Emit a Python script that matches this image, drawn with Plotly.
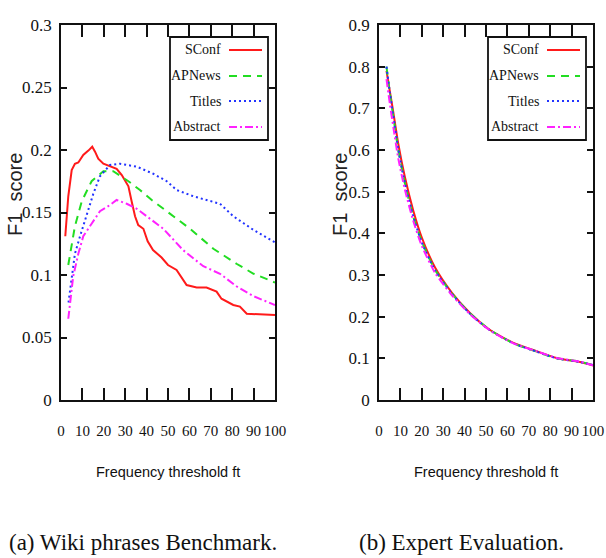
import plotly.graph_objects as go

# ---------------- data (a) Wiki phrases Benchmark ----------------
sconf_x = [2, 3.4, 5, 6.5, 8.1, 10.4, 12.8, 14.6, 15.9, 17.4, 19.8, 22.9, 26, 28.4, 31.5, 33, 34.6,
           36.1, 38.5, 40.5, 43, 47, 50, 54, 57, 58.7, 63.4, 68, 72.7, 75, 80.5, 83.6, 86.8, 93, 100]
sconf_y = [0.131, 0.163, 0.184, 0.189, 0.190, 0.196, 0.1995, 0.2026, 0.1987, 0.193, 0.189, 0.1867,
           0.185, 0.180, 0.171, 0.159, 0.147, 0.140, 0.137, 0.127, 0.120, 0.114, 0.108, 0.104, 0.096,
           0.092, 0.090, 0.090, 0.0867, 0.081, 0.076, 0.0747, 0.069, 0.0688, 0.068]

apnews_x = [3.4, 6.5, 9.7, 14.3, 19.8, 24.4, 31.5, 36.9, 42.4, 48.6, 60.3, 71.2, 82, 90, 100]
apnews_y = [0.108, 0.139, 0.159, 0.175, 0.183, 0.183, 0.175, 0.168, 0.160, 0.152, 0.137, 0.121,
            0.109, 0.101, 0.094]

titles_x = [3.5, 5, 6.5, 8.9, 12, 15.1, 18.2, 22.9, 27.6, 35.4, 43.1, 49.4, 54, 61.8, 68, 74.3,
            80.5, 90, 100]
titles_y = [0.078, 0.097, 0.117, 0.131, 0.149, 0.165, 0.179, 0.188, 0.189, 0.1867, 0.181, 0.175,
            0.168, 0.163, 0.160, 0.157, 0.147, 0.136, 0.126]

abstract_x = [3.4, 5.7, 8.1, 10.4, 14.3, 18.2, 22.9, 26, 30.7, 35.4, 41.6, 47.8, 57, 66.5, 74.3,
              82, 90, 100]
abstract_y = [0.065, 0.099, 0.117, 0.131, 0.141, 0.151, 0.156, 0.160, 0.157, 0.153, 0.145, 0.137,
              0.120, 0.107, 0.101, 0.091, 0.083, 0.076]

# ---------------- data (b) Expert Evaluation ----------------
exp_x = [3.5, 5.1, 6.7, 9, 12.1, 16, 20, 26.2, 34, 42.5, 51.9, 62.8, 73.7, 83, 94, 100]
exp_sconf = [0.79, 0.74, 0.69, 0.615, 0.535, 0.455, 0.39, 0.318, 0.258, 0.209, 0.168, 0.137,
             0.117, 0.101, 0.091, 0.083]
exp_apnews = [0.80, 0.735, 0.68, 0.60, 0.52, 0.44, 0.38, 0.312, 0.256, 0.208, 0.168, 0.136,
              0.116, 0.100, 0.092, 0.084]
exp_titles = [0.80, 0.737, 0.681, 0.602, 0.521, 0.441, 0.378, 0.311, 0.255, 0.207, 0.167, 0.136,
              0.116, 0.100, 0.091, 0.084]
exp_abstract = [0.77, 0.71, 0.655, 0.58, 0.505, 0.43, 0.37, 0.305, 0.252, 0.206, 0.167, 0.136,
                0.117, 0.101, 0.092, 0.083]

series_names = ["SConf", "APNews", "Titles", "Abstract"]
colors = ["#ff1a1a", "#22dd22", "#2233ff", "#ff22ff"]
dashes = ["solid", "8px,6px", "2px,3px", "8px,3px,2px,3px"]

W, H = 606, 558
def px(x):
    return x / W
def py(y):
    return 1 - y / H

fig = go.Figure()

left = [(sconf_x, sconf_y), (apnews_x, apnews_y), (titles_x, titles_y), (abstract_x, abstract_y)]
right = [exp_sconf, exp_apnews, exp_titles, exp_abstract]

for i, (xs, ys) in enumerate(left):
    fig.add_trace(go.Scatter(x=xs, y=ys, mode="lines", name=series_names[i], showlegend=False,
                             line=dict(color=colors[i], width=2, dash=dashes[i]),
                             xaxis="x", yaxis="y"))
for i, ys in enumerate(right):
    fig.add_trace(go.Scatter(x=exp_x, y=ys, mode="lines", name=series_names[i], showlegend=False,
                             line=dict(color=colors[i], width=2, dash=dashes[i], shape="spline",
                                       smoothing=0.6),
                             xaxis="x2", yaxis="y2"))

xtickfont = dict(family="Liberation Serif", size=15, color="#111")
ytickfont = dict(family="Liberation Serif", size=17, color="#111")
xcommon = dict(range=[0, 100], dtick=10, tick0=0, ticks="inside", ticklen=12, tickwidth=1.5,
               tickcolor="#111", showline=True, linecolor="#111", linewidth=1.8, mirror="ticks",
               showgrid=False, zeroline=False, tickfont=xtickfont, tickangle=0,
               ticklabelstandoff=16, automargin=False)
ycommon = dict(ticks="inside", ticklen=6, tickwidth=1.5, tickcolor="#111", showline=True,
               linecolor="#111", linewidth=1.8, mirror="ticks", showgrid=False, zeroline=False,
               tickfont=ytickfont, ticklabelstandoff=4, automargin=False)

ydom = [py(400), py(25)]
fig.update_layout(
    width=W, height=H, margin=dict(l=0, r=0, t=0, b=0, autoexpand=False),
    paper_bgcolor="white", plot_bgcolor="white", showlegend=False,
    xaxis=dict(domain=[px(61), px(275)], anchor="y", **xcommon),
    yaxis=dict(domain=ydom, anchor="x", range=[0, 0.3], dtick=0.05, **ycommon),
    xaxis2=dict(domain=[px(379), px(593)], anchor="y2", **xcommon),
    yaxis2=dict(domain=ydom, anchor="x2", range=[0, 0.9], dtick=0.1, **ycommon),
)

# legends (gnuplot style: text right, sample line after)
legfont = dict(family="Liberation Serif", size=14, color="#111")
rows = [50, 76, 101, 127]
for (bx0, bx1, tx, lx0, lx1) in [(170, 268, 223, 229, 262), (488, 586, 541, 547, 580)]:
    fig.add_shape(type="rect", xref="paper", yref="paper", x0=px(bx0), x1=px(bx1),
                  y0=py(140), y1=py(37), line=dict(color="#111", width=1.8), fillcolor="white",
                  layer="above")
    for i, r in enumerate(rows):
        fig.add_annotation(x=px(tx), y=py(r), xref="paper", yref="paper", text=series_names[i],
                           showarrow=False, xanchor="right", yanchor="middle", font=legfont)
        fig.add_shape(type="line", xref="paper", yref="paper", x0=px(lx0), x1=px(lx1),
                      y0=py(r), y1=py(r), line=dict(color=colors[i], width=2, dash=dashes[i]),
                      layer="above")

# axis titles
for xc in [15, 340]:
    fig.add_annotation(x=px(xc), y=py(195), xref="paper", yref="paper", text="F1  score",
                       textangle=-90, showarrow=False, xanchor="center", yanchor="middle",
                       font=dict(family="Liberation Sans", size=20, color="#222"))
for xc in [168, 486]:
    fig.add_annotation(x=px(xc), y=py(472), xref="paper", yref="paper",
                       text="Frequency threshold ft", showarrow=False,
                       xanchor="center", yanchor="middle",
                       font=dict(family="Liberation Sans", size=14.5, color="#111"))

# captions
capfont = dict(family="Liberation Serif", size=23, color="#111")
fig.add_annotation(x=px(143), y=py(542), xref="paper", yref="paper", xanchor="center",
                   yanchor="middle", text="(a) Wiki phrases Benchmark.", showarrow=False,
                   font=capfont)
fig.add_annotation(x=px(461), y=py(542), xref="paper", yref="paper", xanchor="center",
                   yanchor="middle", text="(b) Expert Evaluation.", showarrow=False,
                   font=capfont)

fig.write_html("out.html", config={"displayModeBar": False},
               post_script="document.body.style.margin='0';")
